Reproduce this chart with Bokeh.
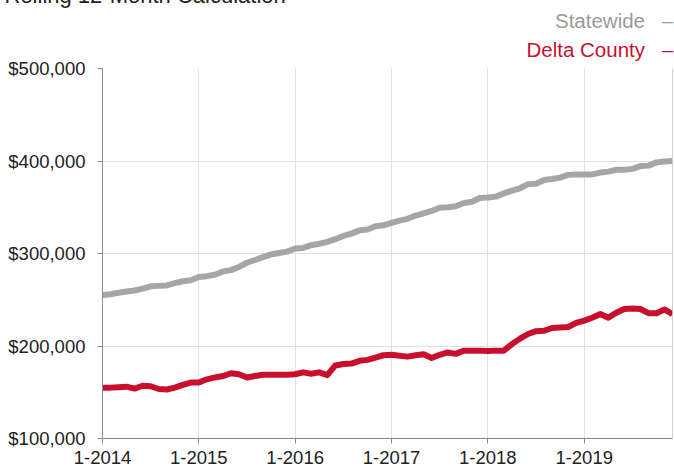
from bokeh.plotting import figure
from bokeh.models import Range1d, FixedTicker, NumeralTickFormatter, Span, Title
from bokeh.embed import file_html
from bokeh.resources import INLINE

# ---- data ----
title_text = "Rolling 12-Month Calculation"
series_names = ["Statewide", "Delta County"]
months = list(range(72))  # 0 = Jan 2014 ... 71 = Dec 2019
x_tick_positions = [0, 12, 24, 36, 48, 60]
x_tick_labels = ["1-2014", "1-2015", "1-2016", "1-2017", "1-2018", "1-2019"]
y_ticks = [100000, 200000, 300000, 400000, 500000]

statewide = [
    255000, 256000, 257500, 259000, 260000, 262000, 264500, 265000, 265500, 268000, 270000, 271000,
    274500, 275500, 277000, 280500, 282000, 285500, 290000, 293000, 296000, 299000, 300500, 302000,
    305500, 306000, 309000, 310500, 312500, 315500, 319000, 321500, 325000, 326000, 329500, 330500,
    333000, 335500, 337500, 341000, 343500, 346000, 349500, 350000, 351000, 354500, 356000, 360000,
    360500, 361500, 365000, 368000, 370500, 375000, 375500, 379500, 380500, 382000, 385000, 385500,
    385500, 385500, 387500, 388500, 390500, 390500, 391500, 394500, 395000, 398500, 399500, 400000,
]
delta_county = [
    155000, 155000, 155500, 156000, 154000, 157000, 156500, 153500, 153000, 155000, 158000, 160500,
    160500, 164000, 166000, 167500, 170500, 169500, 166000, 167500, 169000, 169000, 169000, 169000,
    169500, 171500, 170000, 171500, 168500, 179000, 180500, 181000, 184000, 185000, 187500, 190000,
    190500, 189500, 188500, 190000, 191000, 187000, 190500, 193000, 191500, 195000, 195000, 195000,
    194500, 195000, 195000, 202000, 208000, 213000, 216000, 216500, 219500, 220000, 220500, 225000,
    227500, 230500, 234500, 230500, 236000, 240000, 240500, 240000, 235500, 235500, 239500, 234500,
]

GRAY = "#a6a6a6"
RED = "#c8102e"
FONT = "Liberation Sans"
LEG_SIZE = 20.5
TITLE_SIZE = 22
H_LEG = 1.2 * LEG_SIZE      # measured text-box height used by bokeh for a line
H_TTL = 1.2 * TITLE_SIZE
TTL_LH = 0.9                # line height of the (two-line) cut-off title

W, H = 674, 470
p = figure(width=W, height=H, output_backend="svg", toolbar_location=None,
           x_range=Range1d(0, 71), y_range=Range1d(100000, 500000),
           min_border_left=102, min_border_right=2, min_border_top=68, min_border_bottom=32)
p.outline_line_color = None
p.background_fill_color = "white"
p.border_fill_color = "white"

p.line(months, statewide, line_color=GRAY, line_width=6, line_join="round")
p.line(months, delta_county, line_color=RED, line_width=6, line_join="round")

p.add_layout(Span(location=71, dimension="height", line_color="#aaaaaa", line_width=1))

# axes
p.xaxis.ticker = FixedTicker(ticks=x_tick_positions)
p.xaxis.major_label_overrides = {t: l for t, l in zip(x_tick_positions, x_tick_labels)}
p.yaxis.ticker = FixedTicker(ticks=y_ticks)
p.yaxis.formatter = NumeralTickFormatter(format="$0,0")
for ax in (p.xaxis[0], p.yaxis[0]):
    ax.axis_line_color = "#8c8c8c"
    ax.major_tick_line_color = "#8c8c8c"
    ax.major_tick_out = 5
    ax.major_tick_in = 0
    ax.minor_tick_line_color = None
    ax.major_label_text_font = FONT
    ax.major_label_text_font_size = "18.5px"
    ax.major_label_text_color = "#222222"
p.yaxis.major_label_standoff = 12
p.xaxis.major_label_standoff = 7

p.xgrid.grid_line_color = "#e2e2e2"
p.ygrid.grid_line_color = "#e2e2e2"
p.xgrid.ticker = FixedTicker(ticks=x_tick_positions)
p.ygrid.ticker = FixedTicker(ticks=y_ticks)

# stacked titles above the frame (first added = closest to frame); panel sizes sum to 68px
# Delta County row: panel 36.4px
p.add_layout(Title(text=series_names[1] + "\u00a0\u00a0\u00a0\u2013", align="right", offset=-1,
                   vertical_align="top", standoff=36.4 - 2 - H_LEG,
                   text_font=FONT, text_font_size=f"{LEG_SIZE}px", text_font_style="normal",
                   text_color=RED), "above")
# Statewide row: panel 28.8px
p.add_layout(Title(text=series_names[0] + "\u00a0\u00a0\u00a0\u2013", align="right", offset=-1,
                   vertical_align="bottom", standoff=28.8 - 2 - H_LEG,
                   text_font=FONT, text_font_size=f"{LEG_SIZE}px", text_font_style="normal",
                   text_color="#999999"), "above")
# chart title, cut off at the top edge as in the original: panel 2.8px
ttl_box = H_TTL * (1 + TTL_LH)
p.add_layout(Title(text=title_text + "\n", align="left", offset=-98,
                   vertical_align="middle", standoff=2.8 - 2 - ttl_box,
                   text_line_height=TTL_LH,
                   text_font=FONT, text_font_size=f"{TITLE_SIZE}px", text_font_style="normal",
                   text_color="#222222"), "above")

open("out.html", "w").write(file_html(p, INLINE))
